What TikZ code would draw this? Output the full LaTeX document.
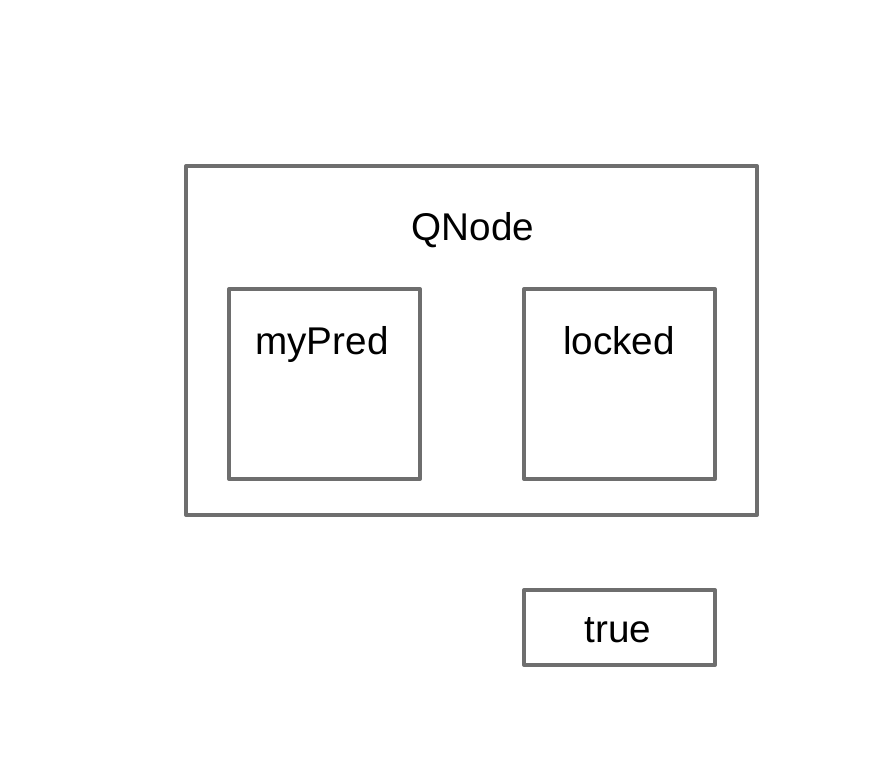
\documentclass[tikz,border=0pt]{standalone}
\usepackage{fontspec}
\setmainfont{Liberation Sans}
\usetikzlibrary{positioning}

\begin{document}
\begin{tikzpicture}[x=0.75pt, y=-0.75pt,
  frame/.style={draw=black!57, line width=3pt, line join=round},
  lbl/.style={anchor=base, inner sep=0pt, font=\fontsize{29}{34}\selectfont}]
\useasboundingbox (0,0) rectangle (890,784);
% Boxes
\draw [frame] (186,166) rectangle (757,515);
\draw [frame] (229,289) rectangle (420,479);
\draw [frame] (524,289) rectangle (715,479);
\draw [frame] (524,590) rectangle (715,665);
% Labels
\node [lbl] (qnode) at (473,241) {QNode};
\node [lbl] (mypred) at (322,355) {myPred};
\node [lbl] (locked) at (619,355) {locked};
\node [lbl] (true) at (618,642) {true};
\end{tikzpicture}
\end{document}
